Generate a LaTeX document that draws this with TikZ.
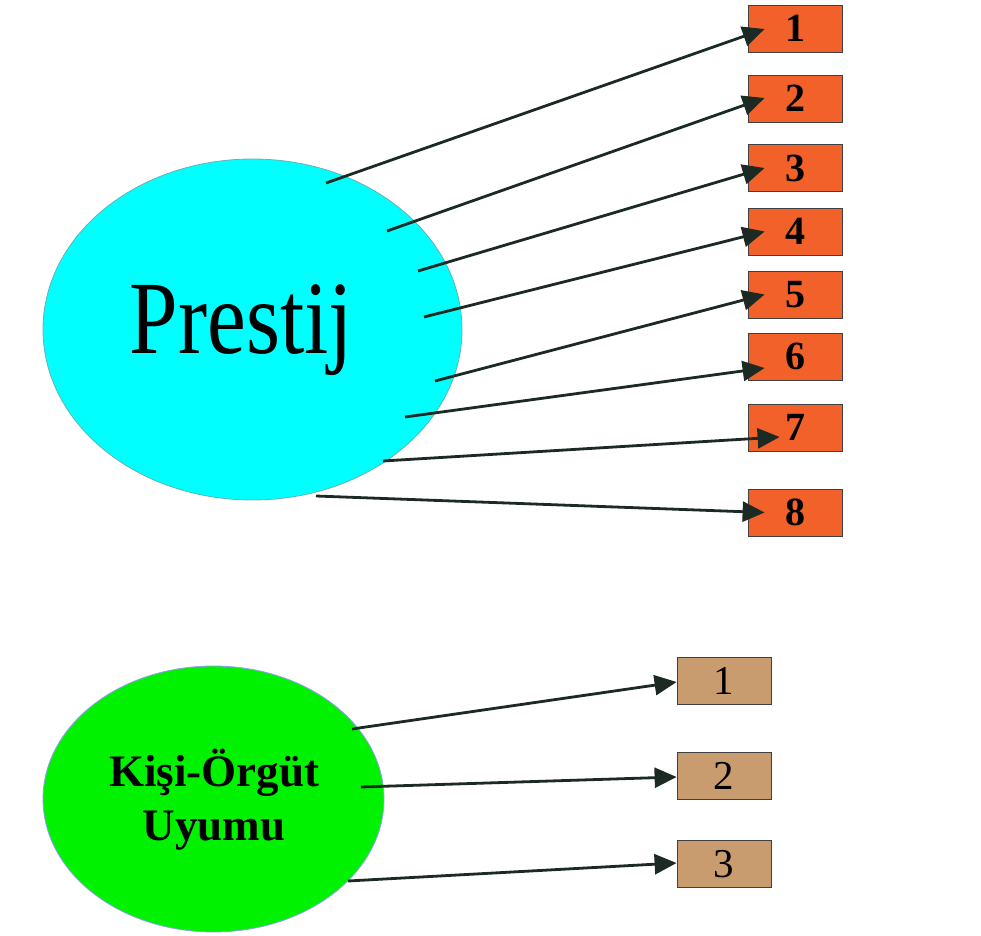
\documentclass[tikz,border=0pt]{standalone}
\usepackage{fontspec}
\setmainfont{Liberation Serif}
\newfontfamily\prestijfont[FakeStretch=0.84]{Liberation Serif}
\usetikzlibrary{shapes.geometric,arrows.meta}
\definecolor{itemorange}{HTML}{F26129}
\definecolor{itemtan}{HTML}{C89C6E}
\definecolor{prestijcyan}{HTML}{00FFFF}
\definecolor{uyumgreen}{HTML}{00F200}
\definecolor{linkdark}{HTML}{1C2A24}
\begin{document}
\begin{tikzpicture}[
        x=0.5pt, y=-0.5pt,
        factor/.style={draw=teal!60, ellipse, inner sep=0pt, thin},
        prestige/.style={factor, fill=prestijcyan, minimum width=209.5pt, minimum height=170.5pt},% upper factor
        uyum/.style={factor, draw=blue!40, fill=uyumgreen, minimum width=170.5pt, minimum height=133pt},% lower factor
        item/.style={draw=black!75, rectangle, minimum width=47pt, minimum height=23.5pt, inner sep=0pt},
        pitem/.style={item, fill=itemorange, font=\fontsize{20}{20}\selectfont\bfseries},% prestige item
        uitem/.style={item, fill=itemtan, font=\fontsize{20.5}{20.5}\selectfont},% fit item
        link/.style={draw=linkdark, line width=1.4pt, -{Triangle[length=11pt,width=10pt]}},
    ]
        \useasboundingbox (0,0) rectangle (981,936);

        % factors
        \node [prestige] (prestij) at (252.5,329.5) {};
        \node [anchor=base, font=\prestijfont\fontsize{52}{52}\selectfont] (prestijtext) at (241.5,354) {Prestij};
        \node [uyum] (kou) at (213.5,799) {};
        \node [align=center, font=\fontsize{22.5}{27}\selectfont\bfseries] (koutext) at (214,800) {Kişi-Örgüt\\Uyumu};

        % items
        \foreach \n/\y in {1/28.5, 2/98.5, 3/168, 4/231.5, 5/294.5, 6/356.5, 7/427.5, 8/512.5}
            \node [pitem] (p\n) at (795,\y) {\n};
        \foreach \n/\y in {1/680.5, 2/776, 3/864}
            \node [uitem] (u\n) at (724,\y) {\n};

        % arrows
        \foreach \n/\sx/\sy/\ex/\ey in {1/73.5/-146.5/17/0.5, 2/134.5/-98.5/17/-0.5, 3/165.5/-58.5/17/0,
                4/171.5/-12.5/17/0, 5/182.5/51.5/17/0, 6/152.5/87.5/17/11.5, 7/130.5/131.5/32/9.5, 8/63.5/166.5/17/0}
            \draw [link] ([shift={(\sx,\sy)}]prestij.center) -- ([shift={(\ex,\ey)}]p\n.west);
        \foreach \n/\sx/\sy/\ey in {1/138.5/-70/1.5, 2/147.5/-12/1, 3/134.5/82/-1}
            \draw [link] ([shift={(\sx,\sy)}]kou.center) -- ([shift={(0,\ey)}]u\n.west);
\end{tikzpicture}
\end{document}
